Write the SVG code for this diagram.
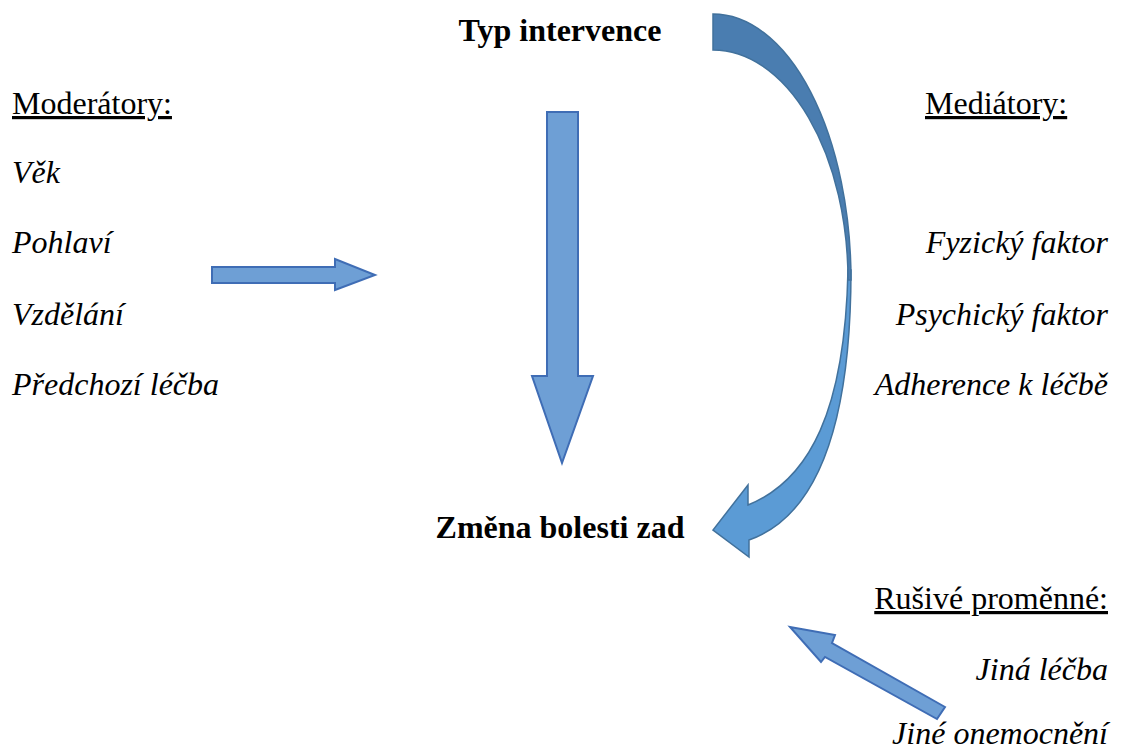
<svg xmlns="http://www.w3.org/2000/svg" width="1121" height="753" viewBox="0 0 1121 753">
  <style>
    .t { font-family: "Liberation Serif", "Times New Roman", "DejaVu Serif", serif; font-size: 32px; fill: #000; }
    .b { font-weight: bold; }
    .i { font-style: italic; }
    .u { text-decoration: underline; }
    .arr { fill: #6e9fd5; stroke: #3f6db5; stroke-width: 2; stroke-linejoin: miter; }
    .cdark { fill: #4a7db0; stroke: #41719c; stroke-width: 1.5; }
    .clight { fill: #5b9bd5; stroke: #41719c; stroke-width: 1.5; }
  </style>
  <rect width="1121" height="753" fill="#fff"/>

  <g id="connectors">
    <!-- moderators arrow -->
    <path class="arr" d="M212,267 L335,267 L335,259 L375,275 L335,290 L335,283 L212,283 Z"/>
    <!-- main vertical arrow -->
    <path class="arr" d="M547,112 L578,112 L578,376 L593,376 L562,463 L532,376 L547,376 Z"/>
    <!-- confounders arrow -->
    <path class="arr" d="M945,707 L832,643 L835,635 L790,627 L821,662 L825,657 L937,719 Z"/>
    <!-- curved mediator arrow -->
    <path class="clight" d="M851,270 C851,420 820,515 749,540 L749,557 L713,530 L748,485 L748,505 C810,480 845,410 848,270 Z"/>
    <path class="cdark" d="M713,14 A138,266 0 0 1 851,280 L848,280 A135,230 0 0 0 713,50 Z"/>
  </g>

  <g id="node-typ-intervence">
    <text class="t b" x="560" y="41" text-anchor="middle">Typ intervence</text>
  </g>
  <g id="node-zmena-bolesti">
    <text class="t b" x="560" y="538" text-anchor="middle">Změna bolesti zad</text>
  </g>

  <g id="node-moderatory">
    <text class="t u" x="12" y="114">Moderátory:</text>
    <text class="t i" x="12" y="183">Věk</text>
    <text class="t i" x="12" y="253">Pohlaví</text>
    <text class="t i" x="12" y="325">Vzdělání</text>
    <text class="t i" x="12" y="395">Předchozí léčba</text>
  </g>

  <g id="node-mediatory">
    <text class="t u" x="925" y="114">Mediátory:</text>
    <text class="t i" x="1108" y="253" text-anchor="end">Fyzický faktor</text>
    <text class="t i" x="1108" y="325" text-anchor="end">Psychický faktor</text>
    <text class="t i" x="1108" y="395" text-anchor="end">Adherence k léčbě</text>
  </g>

  <g id="node-rusive">
    <text class="t u" x="1108" y="609" text-anchor="end">Rušivé proměnné:</text>
    <text class="t i" x="1108" y="680" text-anchor="end">Jiná léčba</text>
    <text class="t i" x="1108" y="744" text-anchor="end">Jiné onemocnění</text>
  </g>
</svg>
